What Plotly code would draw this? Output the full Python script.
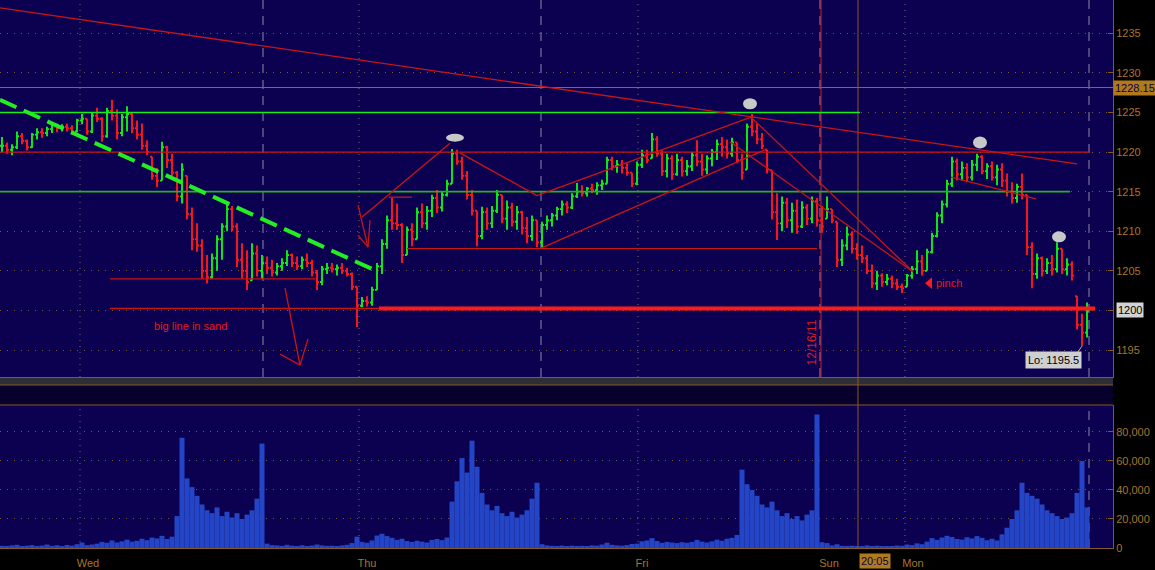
import plotly.graph_objects as go

# ---------------- data ----------------
highs = [
    1221.9, 1221.2, 1221.0, 1222.6, 1222.4, 1221.6, 1222.4, 1223.0, 1223.0, 1223.2,
    1223.8, 1223.6, 1223.5, 1223.6, 1223.4, 1224.2, 1224.8, 1224.2, 1225.0, 1225.6,
    1224.4, 1225.6, 1226.6, 1225.4, 1224.8, 1225.8, 1225.0, 1224.0, 1223.6, 1221.5,
    1219.4, 1218.0, 1221.3, 1220.8, 1219.8, 1217.6, 1218.6, 1217.0, 1213.0, 1211.0,
    1209.0, 1207.0, 1207.2, 1209.5, 1211.0, 1213.5, 1213.2, 1211.0, 1208.5, 1207.6,
    1208.5, 1208.2, 1207.0, 1206.8, 1206.4, 1206.0, 1206.6, 1207.6, 1207.2, 1206.8,
    1206.8, 1207.2, 1206.4, 1205.1, 1205.6, 1206.0, 1206.0, 1205.8, 1206.0, 1205.4,
    1204.8, 1203.0, 1201.7, 1201.8, 1203.0, 1206.0, 1209.0, 1212.0, 1214.2, 1213.5,
    1211.0, 1210.6, 1211.0, 1213.0, 1213.5, 1213.2, 1214.6, 1215.2, 1215.0, 1216.5,
    1220.4, 1220.3, 1219.4, 1217.6, 1215.2, 1212.6, 1213.1, 1213.0, 1213.2, 1215.2,
    1214.6, 1213.9, 1213.6, 1213.2, 1212.6, 1211.8, 1212.0, 1211.4, 1211.2, 1212.0,
    1212.3, 1213.1, 1213.9, 1213.8, 1214.8, 1216.1, 1215.8, 1215.6, 1216.0, 1216.2,
    1216.5, 1219.4, 1219.4, 1219.0, 1219.0, 1218.6, 1217.4, 1218.8, 1220.3, 1220.3,
    1222.4, 1222.0, 1220.2, 1219.8, 1219.6, 1219.8, 1219.4, 1219.0, 1220.0, 1221.5,
    1219.8, 1219.6, 1220.4, 1221.6, 1221.9, 1221.6, 1221.8, 1221.2, 1219.8, 1223.6,
    1224.8, 1223.6, 1222.4, 1220.3, 1217.7, 1214.8, 1214.4, 1214.2, 1213.6, 1214.0,
    1213.8, 1213.4, 1214.4, 1214.2, 1213.2, 1214.4, 1212.8, 1211.2, 1209.0, 1210.6,
    1210.0, 1208.5, 1208.2, 1207.0, 1205.8, 1205.0, 1204.7, 1204.6, 1204.4, 1204.0,
    1203.4, 1204.6, 1205.6, 1207.6, 1207.0, 1207.8, 1209.8, 1212.4, 1213.9, 1216.5,
    1219.4, 1219.2, 1218.8, 1218.6, 1219.0, 1219.8, 1219.6, 1218.6, 1218.8, 1218.4,
    1218.6, 1217.3, 1216.2, 1216.0, 1217.3, 1214.6, 1208.6, 1207.2, 1206.8, 1206.6,
    1207.0, 1208.6, 1207.8, 1206.6, 1206.2, 1201.8, 1199.6, 1201.0,
]
lows = [
    1220.0, 1219.8, 1219.6, 1220.4, 1221.0, 1220.2, 1220.5, 1221.6, 1221.8, 1222.0,
    1222.4, 1222.5, 1222.6, 1222.6, 1222.2, 1222.5, 1223.5, 1222.2, 1222.4, 1223.8,
    1221.3, 1221.8, 1224.0, 1221.6, 1222.0, 1222.6, 1222.4, 1221.6, 1220.3, 1219.6,
    1216.5, 1215.6, 1216.4, 1218.0, 1216.9, 1213.8, 1213.5, 1211.5, 1207.6, 1207.4,
    1204.0, 1203.4, 1204.0, 1205.0, 1206.4, 1210.0, 1210.0, 1205.5, 1204.0, 1202.6,
    1203.8, 1204.3, 1204.0, 1204.6, 1204.3, 1204.4, 1205.0, 1205.6, 1205.5, 1205.1,
    1205.2, 1205.5, 1204.3, 1202.6, 1203.2, 1204.6, 1204.8, 1204.4, 1204.6, 1204.3,
    1202.6, 1197.9, 1200.4, 1200.5, 1200.6, 1202.6, 1204.6, 1207.8, 1210.2, 1210.2,
    1206.0, 1207.0, 1208.1, 1209.0, 1210.4, 1210.2, 1211.8, 1212.3, 1212.5, 1214.4,
    1216.0, 1218.4, 1216.5, 1214.0, 1212.0, 1208.1, 1209.0, 1210.2, 1210.4, 1212.3,
    1211.0, 1210.2, 1210.6, 1210.2, 1209.6, 1208.5, 1208.8, 1208.0, 1208.0, 1210.2,
    1210.6, 1211.4, 1212.0, 1212.3, 1212.8, 1214.2, 1214.4, 1214.4, 1214.8, 1214.6,
    1215.2, 1216.0, 1217.7, 1217.4, 1217.3, 1217.0, 1215.6, 1215.8, 1218.0, 1218.6,
    1219.2, 1219.4, 1217.0, 1216.8, 1216.5, 1217.0, 1216.9, 1217.0, 1217.6, 1218.2,
    1217.0, 1217.2, 1218.2, 1219.0, 1219.4, 1219.2, 1219.4, 1218.6, 1216.5, 1217.8,
    1222.0, 1221.0, 1220.4, 1217.3, 1211.5, 1208.9, 1210.0, 1210.4, 1209.8, 1209.7,
    1210.4, 1210.8, 1211.0, 1210.6, 1209.8, 1211.6, 1211.0, 1205.5, 1205.6, 1207.6,
    1207.2, 1206.4, 1206.0, 1204.6, 1202.8, 1202.6, 1203.0, 1203.2, 1202.8, 1202.6,
    1202.2, 1203.0, 1204.0, 1204.6, 1204.4, 1205.0, 1207.2, 1209.2, 1211.0, 1213.0,
    1215.6, 1216.4, 1216.4, 1216.2, 1216.4, 1217.6, 1217.2, 1216.6, 1216.4, 1215.8,
    1215.6, 1214.4, 1213.5, 1213.6, 1214.0, 1207.0, 1202.8, 1204.0, 1204.3, 1204.6,
    1204.4, 1204.8, 1204.6, 1204.4, 1203.8, 1197.6, 1195.5, 1196.6,
]
closes = [
    1220.8, 1220.3, 1220.6, 1222.0, 1221.4, 1220.6, 1222.2, 1222.5, 1222.4, 1222.9,
    1223.4, 1223.0, 1223.2, 1223.0, 1222.6, 1224.0, 1224.2, 1222.6, 1224.6, 1224.2,
    1222.0, 1225.2, 1224.6, 1222.4, 1224.4, 1224.8, 1223.0, 1222.2, 1220.8, 1220.0,
    1217.0, 1216.4, 1220.6, 1219.0, 1217.4, 1214.4, 1217.8, 1212.2, 1209.0, 1208.2,
    1205.0, 1204.2, 1206.6, 1209.0, 1210.6, 1212.8, 1210.6, 1206.4, 1205.0, 1203.6,
    1207.2, 1205.0, 1206.0, 1205.4, 1204.8, 1205.6, 1206.0, 1207.0, 1206.0, 1205.6,
    1206.4, 1206.0, 1204.8, 1203.6, 1205.2, 1205.4, 1205.2, 1205.4, 1205.0, 1204.6,
    1203.0, 1200.6, 1201.2, 1201.0, 1202.6, 1205.6, 1208.4, 1211.4, 1211.0, 1210.8,
    1207.0, 1210.2, 1209.0, 1212.4, 1211.0, 1212.6, 1214.2, 1213.0, 1214.6, 1216.0,
    1219.8, 1218.8, 1217.0, 1214.6, 1212.6, 1209.4, 1212.4, 1211.0, 1212.6, 1214.6,
    1211.6, 1213.0, 1211.2, 1212.4, 1210.4, 1209.4, 1211.4, 1208.6, 1210.8, 1211.4,
    1212.0, 1212.8, 1213.4, 1213.0, 1214.4, 1215.0, 1214.8, 1215.4, 1215.2, 1215.8,
    1216.0, 1219.0, 1218.2, 1218.4, 1218.0, 1217.4, 1216.0, 1218.4, 1219.6, 1219.0,
    1221.6, 1219.8, 1217.6, 1219.2, 1217.2, 1219.0, 1217.6, 1218.2, 1219.6, 1218.8,
    1217.8, 1219.2, 1220.0, 1221.0, 1220.6, 1219.8, 1221.2, 1219.0, 1217.4, 1223.2,
    1222.6, 1221.6, 1220.8, 1217.8, 1212.4, 1211.0, 1213.6, 1211.4, 1212.6, 1210.6,
    1213.0, 1211.6, 1213.8, 1211.4, 1210.6, 1212.8, 1211.4, 1206.4, 1208.2, 1209.6,
    1207.8, 1207.0, 1206.6, 1205.0, 1203.4, 1204.4, 1203.6, 1204.0, 1203.4, 1203.0,
    1202.8, 1204.4, 1205.2, 1206.2, 1205.0, 1207.4, 1209.4, 1212.0, 1213.4, 1216.0,
    1218.8, 1217.2, 1218.0, 1216.8, 1218.4, 1219.4, 1217.6, 1218.2, 1216.8, 1217.8,
    1216.4, 1215.0, 1214.2, 1215.6, 1214.6, 1208.0, 1204.6, 1206.6, 1205.0, 1206.0,
    1205.2, 1207.8, 1205.2, 1205.8, 1204.4, 1198.2, 1197.2, 1200.0,
]
volumes = [
    1500, 1200, 1800, 2200, 1400, 1600, 2000, 1300, 1700, 2400,
    1500, 1900, 1300, 2100, 1600, 2600, 3800, 2000, 2400, 3000,
    4200, 3600, 5200, 3800, 4600, 5800, 4400, 5000, 6400, 5400,
    7200, 6600, 8400, 6200, 7800, 22000, 76000, 48000, 42000, 36000,
    30000, 26000, 24000, 28000, 22000, 25000, 21000, 24000, 20000, 23000,
    26000, 34000, 72000, 3000, 2000, 1800, 1500, 2200, 1600, 1400,
    1900, 1300, 1700, 2400, 1800, 1500, 1600, 1400, 1800, 2200,
    3400, 7800, 4200, 3600, 5200, 8600, 9800, 8200, 7000, 5600,
    6400, 4800, 4200, 5000, 4400, 3800, 5600, 6200, 5400, 7200,
    32000, 46000, 62000, 52000, 74000, 56000, 38000, 30000, 26000, 29000,
    24000, 22000, 25000, 21000, 23000, 26000, 34000, 45000, 2600, 1800,
    1500, 1400, 1700, 1300, 1600, 1200, 1500, 1400, 1800, 1600,
    2400, 3600, 2200, 1800, 1600, 2000, 2800, 3000, 4600, 5200,
    6800, 4800, 3600, 4200, 3800, 3400, 4000, 3600, 4200, 5600,
    4400, 3800, 4600, 5800, 5000, 6400, 7000, 9000, 54000, 44000,
    40000, 36000, 30000, 28000, 32000, 26000, 22000, 24000, 20000, 22000,
    19000, 23000, 26000, 92000, 4000, 3400, 1800, 2600, 1500, 1300,
    1600, 1200, 1400, 1800, 1300, 1600, 1200, 1400, 1100, 1700,
    1500, 2400, 2000, 3200, 2600, 4400, 6800, 5600, 7200, 8400,
    7600, 6200, 5800, 7400, 6600, 8200, 7000, 5400, 6400, 5200,
    9400, 14000, 20000, 26000, 45000, 38000, 36000, 34000, 30000, 26000,
    24000, 22000, 20000, 21000, 24000, 38000, 60000, 28000,
]
day_labels = ["Wed", "Thu", "Fri", "Sun", "Mon"]
day_label_pos = [17.2, 73.0, 128.0, 165.4, 182.2]
day_start_pos = [15.6, 71.4, 127.2, 180.6]
session_pos = [52.2, 107.8, 163.6, 217.4]
price_ticks = [1195, 1200, 1205, 1210, 1215, 1220, 1225, 1230, 1235]
vol_ticks = [0, 20000, 40000, 60000, 80000]
last_price = 1200
marker_price = 1228.15
low_price = 1195.5

# user drawings (time index, price)
red_lines = [
    (-0.4, 1238.2, 215.0, 1218.5),
    (56.6, 1202.85, 59.6, 1193.1), (59.6, 1193.1, 61.2, 1196.4), (59.6, 1193.1, 55.6, 1194.5),
    (71.2, 1213.3, 73.2, 1208.0), (73.2, 1208.0, 73.6, 1211.4), (73.2, 1208.0, 71.2, 1209.5),
    (72.0, 1211.8, 89.6, 1221.1),
    (77.4, 1214.3, 82.0, 1214.3),
    (91.6, 1219.9, 107.0, 1214.5),
    (107.0, 1214.5, 149.8, 1224.4),
    (107.6, 1207.8, 153.0, 1220.4),
    (81.0, 1207.8, 163.0, 1207.8),
    (145.6, 1221.3, 182.2, 1204.9),
    (149.8, 1224.4, 182.2, 1204.9),
    (189.8, 1216.85, 206.8, 1214.1),
    (21.6, 1204.0, 62.6, 1204.0),
    (-0.4, 1220.0, 217.4, 1220.0),
    (21.6, 1200.25, 75.4, 1200.25),
]
big_line = (75.4, 1200.25, 218.6, 1200.25)
green_solid = [(-0.4, 1225.0, 171.6, 1225.0), (-0.4, 1215.0, 213.6, 1215.0)]
green_dashed = (-0.4, 1226.6, 75.2, 1204.9)
dots = [(90.6, 1221.8, 1.8, 0.5), (149.6, 1226.1, 1.4, 0.7), (195.6, 1221.2, 1.4, 0.75), (211.4, 1209.3, 1.4, 0.7)]
date_line_pos = 163.8
cursor_pos = 171.2

# ---------------- styling ----------------
BG = "#0c0050"
AXIS = "#86582a"
TXT = "#a8742e"
GRID = "#7e5a32"
FONT = "Liberation Sans"
P_RANGE = [1191.6, 1239.2]
V_RANGE = [0, 98600]
X_RANGE = [-0.4, 222.2]

n = len(closes)
assert len(highs) == n and len(lows) == n and len(volumes) == n
xs = list(range(n))
opens = []
prev = closes[0]
for h, l, c in zip(highs, lows, closes):
    opens.append(min(max(prev, l), h))
    prev = c

fig = go.Figure()
fig.add_trace(go.Ohlc(
    x=xs, open=opens, high=highs, low=lows, close=closes,
    increasing=dict(line=dict(color="#10f010", width=1.9)),
    decreasing=dict(line=dict(color="#ff1818", width=1.9)),
    tickwidth=0.4, xaxis="x", yaxis="y", hoverinfo="skip",
))
fig.add_trace(go.Bar(
    x=xs, y=volumes, width=1.0, marker=dict(color="#2446c6", line=dict(width=0)),
    xaxis="x2", yaxis="y2", hoverinfo="skip",
))

shapes = []
# band between panes
shapes.append(dict(type="rect", xref="paper", yref="paper", x0=0, x1=1, y0=0.29745, y1=0.31204,
                   fillcolor="#2e2e36", line=dict(width=0), layer="below"))
shapes.append(dict(type="rect", xref="paper", yref="paper", x0=0, x1=1, y0=0.26095, y1=0.29745,
                   fillcolor="#07002c", line=dict(width=0), layer="below"))
for yy in (0.29745, 0.26095):
    shapes.append(dict(type="line", xref="paper", yref="paper", x0=0, x1=1, y0=yy, y1=yy,
                       line=dict(color=AXIS, width=1)))
# vertical grid
for p in day_start_pos:
    shapes.append(dict(type="line", xref="x", yref="y", x0=p, x1=p, y0=P_RANGE[0], y1=P_RANGE[1],
                       line=dict(color="#7a6a72", width=1, dash="1px,5px"), layer="below"))
    shapes.append(dict(type="line", xref="x2", yref="y2", x0=p, x1=p, y0=V_RANGE[0], y1=V_RANGE[1],
                       line=dict(color="#7a6a72", width=1, dash="1px,5px"), layer="below"))
for p in session_pos:
    shapes.append(dict(type="line", xref="x", yref="y", x0=p, x1=p, y0=P_RANGE[0], y1=P_RANGE[1],
                       line=dict(color="#8a8aa8", width=1, dash="9px,7px"), layer="below"))
shapes.append(dict(type="line", xref="x2", yref="y2", x0=session_pos[-1], x1=session_pos[-1],
                   y0=V_RANGE[0], y1=V_RANGE[1], line=dict(color="#8a8aa8", width=1, dash="9px,7px"),
                   layer="below"))
# price marker line
shapes.append(dict(type="line", xref="paper", yref="y", x0=0, x1=1, y0=marker_price, y1=marker_price,
                   line=dict(color="#a06428", width=1)))
# date line and cursor
shapes.append(dict(type="line", xref="x", yref="y", x0=date_line_pos, x1=date_line_pos,
                   y0=P_RANGE[0], y1=P_RANGE[1], line=dict(color="#d42020", width=1)))
shapes.append(dict(type="line", xref="x", yref="paper", x0=cursor_pos, x1=cursor_pos, y0=0, y1=1,
                   line=dict(color="#8a5a22", width=1)))
# drawings
for (a, b, c, d) in green_solid[:1]:
    shapes.append(dict(type="line", xref="x", yref="y", x0=a, y0=b, x1=c, y1=d,
                       line=dict(color="#14f014", width=1.6)))
for (a, b, c, d) in green_solid[1:]:
    shapes.append(dict(type="line", xref="x", yref="y", x0=a, y0=b, x1=c, y1=d,
                       line=dict(color="#22b422", width=1.6)))
for (a, b, c, d) in red_lines:
    shapes.append(dict(type="line", xref="x", yref="y", x0=a, y0=b, x1=c, y1=d,
                       line=dict(color="#c81616", width=1.3)))
a, b, c, d = big_line
shapes.append(dict(type="line", xref="x", yref="y", x0=a, y0=b, x1=c, y1=d,
                   line=dict(color="#ff1a1a", width=4)))
a, b, c, d = green_dashed
shapes.append(dict(type="line", xref="x", yref="y", x0=a, y0=b, x1=c, y1=d,
                   line=dict(color="#22ee22", width=4, dash="18px,8px")))
for (cx, cy, rx, ry) in dots:
    shapes.append(dict(type="circle", xref="x", yref="y", x0=cx - rx, x1=cx + rx, y0=cy - ry, y1=cy + ry,
                       fillcolor="#c8c8c8", line=dict(width=0)))
# pinch triangle
shapes.append(dict(type="path", xref="x", yref="y",
                   path="M 184.6,1203.45 L 186.0,1204.2 L 186.0,1202.7 Z",
                   fillcolor="#ff1a1a", line=dict(width=0)))
# Lo leader
shapes.append(dict(type="line", xref="x", yref="y", x0=215.0, y0=1194.6, x1=216.0, y1=1195.5,
                   line=dict(color="#b0b0b0", width=1)))

annotations = [
    dict(x=37.6, y=1198.05, xref="x", yref="y", text="big line in sand", showarrow=False,
         font=dict(family=FONT, size=11, color="#e81818")),
    dict(x=186.3, y=1203.45, xref="x", yref="y", text="pinch", showarrow=False, xanchor="left",
         font=dict(family=FONT, size=11, color="#e81818")),
    dict(x=161.9, y=1195.9, xref="x", yref="y", text="12/16/11", showarrow=False, textangle=-90,
         font=dict(family=FONT, size=12, color="#d42020")),
    dict(x=210.2, y=1193.75, xref="x", yref="y", text="Lo: " + str(low_price), showarrow=False,
         bgcolor="#cfcfcf", borderpad=2, font=dict(family=FONT, size=11, color="#000000")),
    dict(x=1.0027, y=last_price, xref="paper", yref="y", text=str(last_price), showarrow=False,
         xanchor="left", yanchor="middle", bgcolor="#d2d2d2", borderpad=1,
         font=dict(family=FONT, size=11, color="#000000")),
    dict(x=1.0, y=marker_price, xref="paper", yref="y", text=f"{marker_price:.2f}", showarrow=False,
         xanchor="left", yanchor="middle", bgcolor="#b07a1c", borderpad=1,
         font=dict(family=FONT, size=11, color="#0c0050")),
    dict(x=174.6, y=-0.0237, xref="x2", yref="paper", text="20:05", showarrow=False, yanchor="middle",
         bgcolor="#b07a1c", borderpad=1, font=dict(family=FONT, size=11, color="#0c0050")),
]

price_ticktext = ["" if t == last_price else str(t) for t in price_ticks]

fig.update_layout(
    width=1155, height=570,
    margin=dict(l=0, r=42, t=0, b=22, autoexpand=False),
    paper_bgcolor="#000000", plot_bgcolor=BG,
    showlegend=False, hovermode=False,
    shapes=shapes, annotations=annotations,
    xaxis=dict(domain=[0, 1], range=X_RANGE, anchor="y", showticklabels=False, showgrid=False,
               zeroline=False, showline=True, linecolor=AXIS, rangeslider=dict(visible=False),
               fixedrange=True),
    yaxis=dict(domain=[0.31204, 1], range=P_RANGE, side="right", anchor="x", tickvals=price_ticks,
               ticktext=price_ticktext,
               showgrid=True, gridcolor=GRID, griddash="1px,6px", zeroline=False,
               showline=True, linecolor=AXIS, ticks="inside", ticklen=5, tickcolor=AXIS,
               tickfont=dict(family=FONT, size=11, color=TXT), fixedrange=True),
    xaxis2=dict(domain=[0, 1], range=X_RANGE, anchor="y2", tickvals=day_label_pos, ticktext=day_labels,
                showgrid=False, zeroline=False, showline=True, linecolor=AXIS, ticks="",
                ticklabelstandoff=5,
                tickfont=dict(family=FONT, size=11, color=TXT), fixedrange=True),
    yaxis2=dict(domain=[0, 0.26095], range=V_RANGE, side="right", anchor="x2", tickvals=vol_ticks,
                tickformat=",d", showgrid=True, gridcolor=GRID, griddash="1px,6px", zeroline=False,
                showline=True, linecolor=AXIS, ticks="inside", ticklen=5, tickcolor=AXIS,
                tickfont=dict(family=FONT, size=11, color=TXT), fixedrange=True),
)

fig.write_html("out.html", config={"displayModeBar": False},
               post_script="document.body.style.margin='0px';document.body.style.overflow='hidden';")
